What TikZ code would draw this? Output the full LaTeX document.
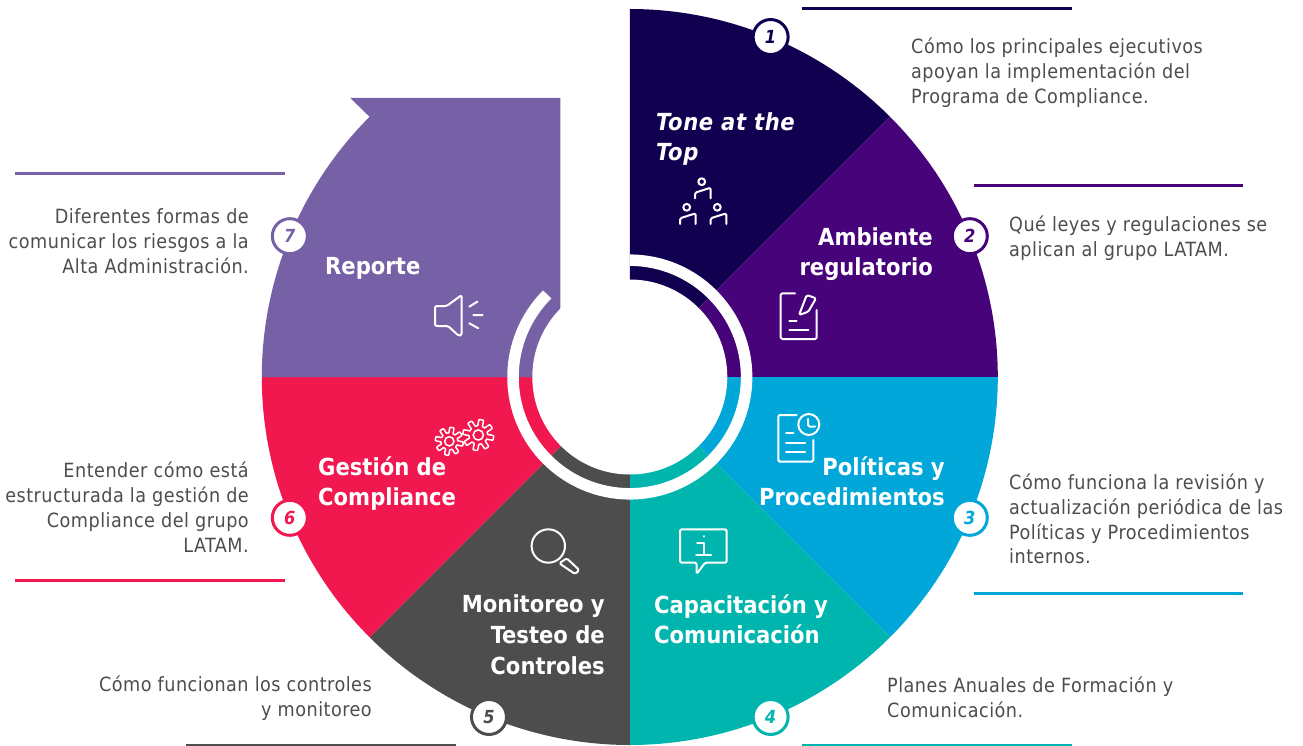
\documentclass[tikz,border=0pt]{standalone}
\usepackage{fontspec}
\setmainfont[LetterSpace=2.5]{DejaVu Sans Condensed}
\newfontfamily\segfont{DejaVu Sans Condensed}
\definecolor{tonecol}{HTML}{10004F}
\definecolor{ambientecol}{HTML}{46037A}
\definecolor{politicascol}{HTML}{00A7D8}
\definecolor{capacitacol}{HTML}{00B5AD}
\definecolor{monitorcol}{HTML}{4D4D4D}
\definecolor{gestioncol}{HTML}{F0184F}
\definecolor{reportecol}{HTML}{7660A6}
\tikzset{
  seglabel/.style={inner sep=0pt, text=white, font=\fontsize{23.5}{30}\segfont\bfseries},
  desc/.style={inner sep=0pt, text=monitorcol, font=\fontsize{19.6}{24.8}\selectfont},
  badge/.style={circle, draw=#1, line width=3pt, fill=white, minimum size=35pt, inner sep=0pt,
    text=#1, font=\fontsize{18}{18}\selectfont\bfseries\itshape},
  rulebar/.style={line width=3pt},
  icon/.style={draw=white, line width=2pt, line cap=round, line join=round, rounded corners=1.5pt},
  pics/person/.style={code={
    \draw[icon] (0,0) circle (3.4);
    \draw[icon] (-6.7,16.7) -- (-6.7,11) -- (9,6) -- (9,16.7);
  }},
  pics/gear/.style={code={
    \draw[icon, line width=1.5pt, rounded corners=0pt] plot[domain=0:360, samples=145]
      (\x:{#1*(0.8+0.2*min(1,max(-1,2.5*sin(8*\x))))}) -- cycle;
    \draw[icon, line width=1.5pt] (0,0) circle (#1*0.33);
  }},
}
\begin{document}
\begin{tikzpicture}[x=1pt, y=-1pt]
\useasboundingbox (0,0) rectangle (1303,746);
% Wheel
\begin{scope}[shift={(629.8,377)}, y=1pt]
\foreach \ang/\col in {90/tonecol, 45/ambientecol, 0/politicascol, -45/capacitacol, -90/monitorcol, -135/gestioncol}
  \fill[\col] (0,0) -- (\ang:368) arc[start angle=\ang, delta angle=-45, radius=368] -- cycle;
\fill[reportecol] (-69.5,0) -- (180:368) arc[start angle=180, end angle=135, radius=368]
  -- (-279.5,279) -- (-69.5,279) -- cycle;
\fill[white] (0,0) circle (97.5);
\draw[white, line width=11.5pt] (90:116.8) arc[start angle=90, end angle=-225, radius=116.8];
% Numbers
\foreach \n/\ang/\col in {1/67.5/tonecol, 2/22.5/ambientecol, 3/-22.5/politicascol, 4/-67.5/capacitacol,
    5/-112.5/monitorcol, 6/-157.5/gestioncol, 7/157.5/reportecol}
  \node[badge=\col] (num\n) at (\ang:368) {\n};
\end{scope}
% Rules
\draw[rulebar, tonecol] (802,9) -- (1072,9);
\draw[rulebar, ambientecol] (974,186) -- (1243,186);
\draw[rulebar, politicascol] (974,593) -- (1243,593);
\draw[rulebar, capacitacol] (802,745) -- (1072,745);
\draw[rulebar, monitorcol] (186,745) -- (456,745);
\draw[rulebar, gestioncol] (15,580) -- (285,580);
\draw[rulebar, reportecol] (15,174) -- (285,174);
% Segment names
\node[seglabel, anchor=west, align=left, font=\fontsize{23.5}{30}\selectfont\bfseries\itshape] (tone) at (656,139) {Tone at the\\Top};
\node[seglabel, anchor=east, align=right] (ambiente) at (933,254) {Ambiente\\regulatorio};
\node[seglabel, anchor=east, align=right] (politicas) at (945,481) {Políticas y\\Procedimientos};
\node[seglabel, anchor=west, align=left] (capacita) at (654,619) {Capacitación y\\Comunicación};
\node[seglabel, anchor=east, align=right, font=\fontsize{23.5}{31}\segfont\bfseries] (monitor) at (605,635) {Monitoreo y\\Testeo de\\Controles};
\node[seglabel, anchor=west, align=left] (gestion) at (318,484) {Gestión de\\Compliance};
\node[seglabel, anchor=west] (reporte) at (325,268) {Reporte};
% Descriptions
\node[desc, anchor=west, align=left] (desctone) at (911,73) {Cómo los principales ejecutivos\\apoyan la implementación del\\Programa de Compliance.};
\node[desc, anchor=west, align=left] (descambiente) at (1009,238) {Qué leyes y regulaciones se\\aplican al grupo LATAM.};
\node[desc, anchor=west, align=left] (descpoliticas) at (1009,519) {Cómo funciona la revisión y\\actualización periódica de las\\Políticas y Procedimientos\\internos.};
\node[desc, anchor=west, align=left] (desccapacita) at (887,697) {Planes Anuales de Formación y\\Comunicación.};
\node[desc, anchor=east, align=right] (descmonitor) at (372,698) {Cómo funcionan los controles\\y monitoreo};
\node[desc, anchor=east, align=right] (descgestion) at (249,507) {Entender cómo está\\estructurada la gestión de\\Compliance del grupo\\LATAM.};
\node[desc, anchor=east, align=right] (descreporte) at (249,241) {Diferentes formas de\\comunicar los riesgos a la\\Alta Administración.};
% Icons
\pic at (701.7,181.7) {person};
\pic at (686.7,207.3) {person};
\pic at (717.3,207.3) {person};
\draw[icon] (795,293.3) -- (780.7,293.3) -- (780.7,339) -- (816.7,339) -- (816.7,310);
\draw[icon] (789.3,320.7) -- (796.7,320.7) (789.3,330) -- (808.3,330);
\draw[icon] (799,315) -- (806.7,295) -- (816,298.3) -- (808.3,311.7) -- cycle;
\draw[icon] (796.7,415) -- (778.3,415) -- (778.3,461.7) -- (813.3,461.7) -- (813.3,440);
\draw[icon] (786,433.3) -- (793.3,433.3) (786,442.7) -- (805,442.7) (786,451.7) -- (805,451.7);
\draw[icon] (808.8,424.5) circle (10.5);
\draw[icon] (808,419) -- (808,426.5) -- (815,426.5);
\draw[icon] (696.7,562.7) -- (680,562.7) -- (680,529.3) -- (726.7,529.3) -- (726.7,562.7) -- (705,562.7) -- (696.7,574) -- cycle;
\draw[icon, rounded corners=0pt] (697,543) -- (703.5,543) -- (703.5,555) (696,555) -- (711,555) (703.5,536) -- (703.5,536.5);
\draw[icon] (548.3,546) circle (16.7);
\draw[icon] (559.3,563.3) -- (566.7,558.3) -- (579.3,570) -- (575,574) -- cycle;
\pic at (449.3,441.3) {gear=14};
\pic at (478.3,435) {gear=15.5};
\draw[icon] (461.7,295) -- (446.7,306) -- (435,306) -- (435,326) -- (448,326) -- (459,336) -- (461.7,335) -- cycle;
\draw[icon] (469.3,306.7) -- (477.3,301.7) (473.3,315) -- (482.7,315) (469.3,323.3) -- (478.3,328.3);
\end{tikzpicture}
\end{document}
